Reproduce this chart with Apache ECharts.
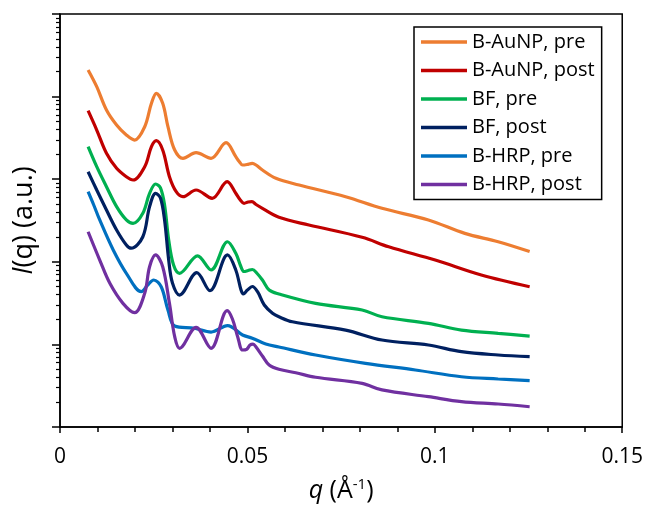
<!DOCTYPE html>
<html>
<head>
<meta charset="utf-8">
<script src="https://cdn.jsdelivr.net/npm/echarts@6/dist/echarts.min.js"></script>
<style>
  html, body { margin: 0; padding: 0; background: #ffffff; }
  #chart { width: 646px; height: 517px; }
</style>
</head>
<body>
<div id="chart"></div>
<script>
// Scattering intensity I(q) vs q for six samples (log intensity, arbitrary units)
const seriesNames = ['B-AuNP, pre', 'B-AuNP, post', 'BF, pre', 'BF, post', 'B-HRP, pre', 'B-HRP, post'];
const seriesColors = ['#ED7D31', '#C00000', '#00B050', '#002060', '#0070C0', '#7030A0'];

const bAuNpPreQ = [0.0075,0.0098,0.0124,0.0151,0.0177,0.0199,0.0226,0.0244,0.0257,0.0274,0.0288,0.0306,0.0328,0.0363,0.0403,0.0443,0.0469,0.0478,0.0487,0.0499,0.0513,0.0523,0.0540,0.0576,0.0638,0.0762,0.0859,0.0983,0.1080,0.1169,0.1253];
const bAuNpPreI = [21000,13180,6880,4530,3430,2980,4320,8300,10960,8300,4320,2257,1791,2094,1791,2766,1873,1638,1485,1507,1558,1485,1292,1025,851,614,444,321,221,175,133];

const bAuNpPostQ = [0.0075,0.0098,0.0124,0.0151,0.0177,0.0195,0.0226,0.0244,0.0257,0.0274,0.0292,0.0310,0.0328,0.0363,0.0406,0.0446,0.0469,0.0481,0.0491,0.0502,0.0512,0.0523,0.0540,0.0584,0.0664,0.0806,0.0877,0.1001,0.1124,0.1253];
const bAuNpPostI = [6750,3940,2059,1355,1072,978,1417,2475,2925,2257,1072,706,614,740,587,933,675,560,511,530,534,494,444,346,279,198,152,105,69.2,49.9];

const bfPreQ = [0.0075,0.0098,0.0124,0.0151,0.0177,0.0195,0.0221,0.0239,0.0255,0.0268,0.0279,0.0290,0.0303,0.0319,0.0367,0.0403,0.0447,0.0469,0.0482,0.0491,0.0502,0.0513,0.0526,0.0540,0.0558,0.0584,0.0682,0.0806,0.0859,0.0983,0.1071,0.1169,0.1253];
const bfPreI = [2475,1417,811,465,321,292,387,675,875,783,487,184,91.5,72.6,118,79.6,175,127,88.9,76.3,78.5,80.7,72.2,60.2,45.5,40.8,31.4,26.1,21.6,18.0,14.9,13.6,12.6];

const bfPostQ = [0.0075,0.0098,0.0124,0.0151,0.0177,0.0190,0.0221,0.0239,0.0255,0.0268,0.0279,0.0290,0.0300,0.0319,0.0365,0.0400,0.0447,0.0469,0.0483,0.0489,0.0500,0.0513,0.0527,0.0545,0.0567,0.0584,0.0620,0.0762,0.0859,0.0983,0.1071,0.1169,0.1253];
const bfPostI = [1232,740,424,243,160,146,201,465,675,592,321,105,55.4,39.6,73.8,44.7,121,79.6,45.5,40.8,45.5,50.2,43.5,30.0,23.8,21.6,18.8,14.9,11.3,9.83,8.16,7.44,7.10];

const bHrpPreQ = [0.0075,0.0090,0.0106,0.0142,0.0177,0.0217,0.0234,0.0250,0.0270,0.0288,0.0306,0.0359,0.0403,0.0447,0.0487,0.0513,0.0549,0.0584,0.0682,0.0815,0.0948,0.1071,0.1169,0.1253];
const bHrpPreI = [706,487,321,139,72.6,43.5,52.4,60.2,49.9,26.1,16.7,15.7,14.1,16.9,13.0,11.9,10.1,9.30,7.44,5.90,4.90,4.06,3.81,3.64];

const bHrpPostQ = [0.0075,0.0106,0.0133,0.0168,0.0199,0.0226,0.0239,0.0255,0.0274,0.0292,0.0306,0.0319,0.0363,0.0403,0.0446,0.0460,0.0474,0.0487,0.0498,0.0507,0.0515,0.0523,0.0540,0.0558,0.0584,0.0629,0.0682,0.0806,0.0859,0.0983,0.1071,0.1169,0.1253];
const bHrpPostI = [231,105,54.9,31.4,24.2,41.6,87.2,121,87.2,31.4,12.4,8.97,16.1,8.97,25.6,20.3,12.4,8.55,8.72,9.83,10.1,9.30,7.24,5.63,4.99,4.54,4.00,3.38,2.81,2.33,2.03,1.90,1.76];

// x-axis tick labels
const xTickLabels = ['0', '0.05', '0.1', '0.15'];
// log-axis decades and the 2..9 minor ticks in between
const yMajorTicks = [1, 10, 100, 1000, 10000, 100000];
const yMinorTicks = [];
for (let d = 0; d < 5; d++) {
  for (let m = 2; m <= 9; m++) yMinorTicks.push(m * Math.pow(10, d));
}

const allQ = [bAuNpPreQ, bAuNpPostQ, bfPreQ, bfPostQ, bHrpPreQ, bHrpPostQ];
const allI = [bAuNpPreI, bAuNpPostI, bfPreI, bfPostI, bHrpPreI, bHrpPostI];

const FONT = '"Open Sans", sans-serif';

const series = seriesNames.map((name, k) => ({
  name: name,
  type: 'line',
  xAxisIndex: 0,
  yAxisIndex: 0,
  symbol: 'none',
  showSymbol: false,
  smooth: 0.35,
  color: seriesColors[k],
  lineStyle: { width: 3.2, color: seriesColors[k] },
  data: allQ[k].map((q, i) => [q, allI[k][i]])
}));

const logAxisBase = {
  type: 'log',
  logBase: 10,
  min: 1,
  max: 100000,
  position: 'left',
  splitLine: { show: false },
  axisLabel: { show: false }
};

const option = {
  backgroundColor: '#ffffff',
  animation: false,
  grid: {
    left: 60, top: 14, right: 21, bottom: 90,
    show: true, borderColor: '#000', borderWidth: 1.5, backgroundColor: 'transparent'
  },
  legend: {
    orient: 'vertical',
    left: 414,
    top: 27,
    padding: [5, 7, 5, 7],
    itemGap: 8.5,
    itemWidth: 46,
    itemHeight: 3.5,
    icon: 'rect',
    borderColor: '#000',
    borderWidth: 1.5,
    backgroundColor: '#fff',
    textStyle: { fontFamily: FONT, fontSize: 20, color: '#000', lineHeight: 20 },
    data: seriesNames
  },
  xAxis: {
    type: 'value',
    min: 0,
    max: 0.15,
    interval: 0.05,
    name: '{i|q} (Å{sup|-1})',
    nameLocation: 'middle',
    nameGap: 50,
    nameTextStyle: {
      fontFamily: FONT, fontSize: 25, color: '#000',
      rich: {
        i: { fontFamily: FONT, fontSize: 25, fontStyle: 'italic', color: '#000' },
        sup: { fontFamily: FONT, fontSize: 15, color: '#000', verticalAlign: 'top', padding: [0, 0, 12, 0] }
      }
    },
    axisLine: { show: true, lineStyle: { color: '#000', width: 1.5 } },
    axisTick: { show: true, inside: false, length: 6, lineStyle: { color: '#000', width: 1.5 } },
    minorTick: { show: true, splitNumber: 5, length: 5, lineStyle: { color: '#000', width: 1.5 } },
    splitLine: { show: false },
    minorSplitLine: { show: false },
    axisLabel: {
      margin: 20,
      fontFamily: FONT, fontSize: 21, color: '#000',
      formatter: (v) => {
        const idx = Math.round(v / 0.05);
        return xTickLabels[idx] !== undefined ? xTickLabels[idx] : '';
      }
    }
  },
  yAxis: [
    Object.assign({}, logAxisBase, {
      name: '{i|I}(q) (a.u.)',
      nameLocation: 'middle',
      nameGap: 22,
      nameTextStyle: {
        fontFamily: FONT, fontSize: 27, color: '#000',
        rich: { i: { fontFamily: FONT, fontSize: 27, fontStyle: 'italic', color: '#000' } }
      },
      axisLine: { show: true, lineStyle: { color: '#000', width: 1.5 } },
      axisTick: { show: true, inside: false, length: 8, customValues: yMajorTicks, lineStyle: { color: '#000', width: 1.5 } }
    }),
    Object.assign({}, logAxisBase, {
      axisLine: { show: false },
      axisTick: { show: true, inside: false, length: 4, customValues: yMinorTicks, lineStyle: { color: '#000', width: 1.2 } }
    })
  ],
  series: series
};

const chart = echarts.init(document.getElementById('chart'), null, { renderer: 'canvas' });
chart.setOption(option);
</script>
</body>
</html>
